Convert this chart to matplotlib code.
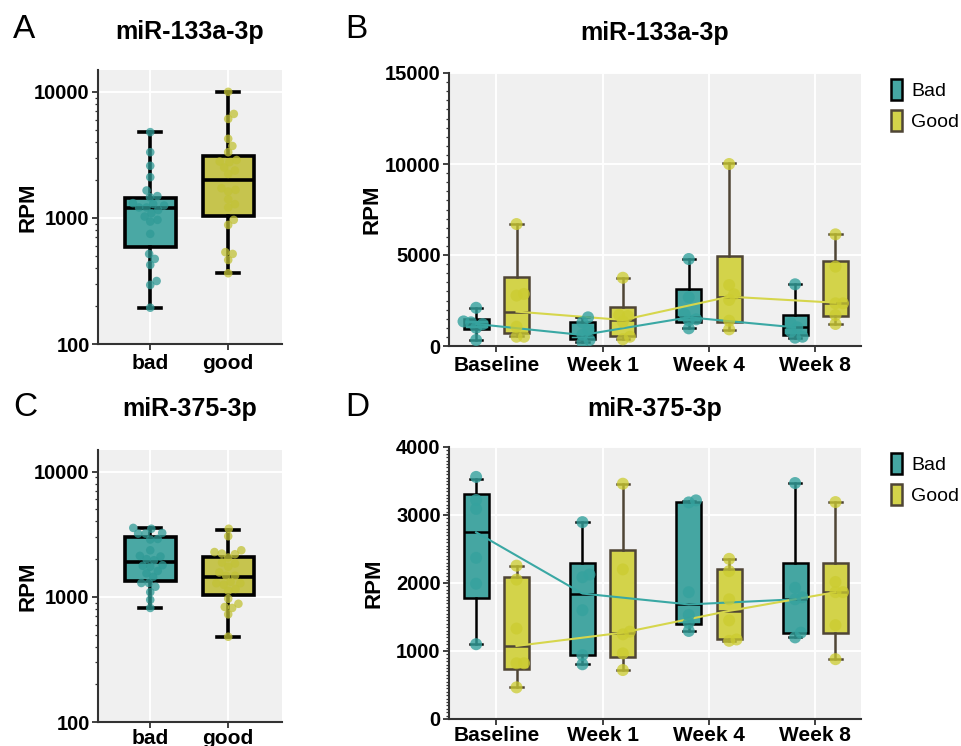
import numpy as np
import matplotlib
matplotlib.use("Agg")
import matplotlib.pyplot as plt
from matplotlib.patches import Patch
from matplotlib.ticker import MultipleLocator, FixedLocator, NullFormatter, LogLocator

plt.rcParams['font.family'] = ['Liberation Sans', 'DejaVu Sans']

# ---------------- DATA ----------------
groups_ac = ["bad", "good"]
timepoints = ["Baseline", "Week 1", "Week 4", "Week 8"]
legend_labels = ["Bad", "Good"]

# Panel A: miR-133a-3p (RPM, log)
A_bad = [4790, 3320, 2590, 2105, 1650, 1460, 1490, 1310, 1290, 1210, 1210, 1155,
         1255, 1090, 1025, 965, 935, 747, 518, 473, 424, 316, 294, 194]
A_good = [10000, 6680, 6100, 4240, 3720, 3320, 2880, 2770, 2800, 2510, 2375, 2235,
          1720, 1620, 1670, 1405, 1285, 1210, 965, 880, 535, 518, 464, 364]
# box stats: whislo, q1, median, q3, whishi
A_bad_box = [194, 592, 1195, 1450, 4790]
A_good_box = [364, 1042, 2005, 3100, 10050]

# Panel C: miR-375-3p (RPM, log)
C_bad = [3240, 3200, 3500, 2870, 3200, 3555, 2900, 2355, 2100, 2125, 1960, 2000,
         1790, 1740, 1770, 1540, 1445, 1610, 1290, 1205, 1290, 1090, 946, 815]
C_good = [3500, 3050, 2355, 2280, 2215, 2190, 2060, 1845, 1740, 1880, 1565, 1475,
          1475, 1320, 1285, 1285, 1250, 1157, 1120, 880, 725, 965, 830, 815, 480]
C_bad_box = [815, 1345, 1900, 3000, 3555]
C_good_box = [480, 1037, 1430, 2100, 3450]

# Panel B: miR-133a-3p over time (RPM)
B_bad_pts = [[2100, 1350, 1300, 1200, 1000, 330],
             [1575, 1300, 880, 620, 330, 200],
             [4780, 2675, 1760, 1465, 1420, 970],
             [3390, 1245, 1025, 800, 510, 457]]
B_good_pts = [[6700, 2860, 2770, 1060, 510, 510],
              [3750, 1700, 1650, 1340, 510, 370],
              [10000, 3350, 2840, 2530, 1390, 915],
              [6135, 4360, 2345, 2345, 1700, 1210]]
B_bad_box = [[330, 935, 1210, 1465, 2100],
             [200, 370, 605, 1335, 1575],
             [970, 1335, 1575, 3115, 4780],
             [420, 605, 1025, 1700, 3390]]
B_good_box = [[550, 700, 1890, 3770, 6700],
              [370, 550, 1430, 2160, 3750],
              [880, 1340, 2710, 4960, 10040],
              [1210, 1650, 2380, 4690, 6135]]

# Panel D: miR-375-3p over time (RPM)
D_bad_pts = [[3560, 3220, 3090, 2370, 1990, 1100],
             [2895, 2125, 2085, 1600, 940, 805],
             [3215, 3185, 1865, 1530, 1415, 1295],
             [3470, 1930, 1790, 1760, 1270, 1200]]
D_good_pts = [[2255, 2050, 1330, 820, 820, 465],
              [3460, 2200, 1285, 1245, 965, 720],
              [2355, 2175, 1760, 1450, 1170, 1150],
              [3190, 2015, 1865, 1865, 1380, 880]]
D_bad_box = [[1100, 1780, 2745, 3305, 3530],
             [805, 940, 1845, 2295, 2895],
             [1295, 1400, 1685, 3190, 3200],
             [1200, 1270, 1760, 2295, 3470]]
D_good_box = [[465, 730, 1075, 2090, 2255],
              [720, 905, 1270, 2490, 3460],
              [1150, 1170, 1590, 2200, 2355],
              [880, 1270, 1865, 2295, 3190]]

# ---------------- STYLE ----------------
TEAL_BOX = "#4aa8a4"
TEAL_PT = "#2f9a96"
YEL_BOX = "#c6c44e"
YEL_PT = "#c2c236"
TEAL_BOX2 = "#45a6a2"
YEL_BOX2 = "#d3d34a"
BROWN = "#4f4535"
BG = "#f0f0f0"
W, H = 962, 746

fig = plt.figure(figsize=(W / 100, H / 100), dpi=100)


def rect(l, t, r, b):
    return [l / W, 1 - b / H, (r - l) / W, (b - t) / H]


axA = fig.add_axes(rect(98, 70, 282, 344))
axC = fig.add_axes(rect(98, 450, 282, 722))
axB = fig.add_axes(rect(449, 73, 861, 346))
axD = fig.add_axes(rect(449, 447, 861, 719))


def style_axes(ax, xpad=3):
    ax.set_facecolor(BG)
    for s in ["top", "right"]:
        ax.spines[s].set_visible(False)
    for s in ["left", "bottom"]:
        ax.spines[s].set_color("#333333")
        ax.spines[s].set_linewidth(1.5)
    ax.tick_params(axis="both", which="major", direction="out", length=4,
                   width=1.3, color="#333333", pad=2)
    ax.tick_params(axis="y", which="minor", direction="out", length=2,
                   width=0.9, color="#333333")
    ax.tick_params(axis="x", which="major", labelsize=15, pad=xpad)
    ax.tick_params(axis="y", which="major", labelsize=14.5)
    for lab in ax.get_xticklabels() + ax.get_yticklabels():
        lab.set_fontweight("bold")
    ax.grid(True, which="major", color="white", linewidth=1.4)
    ax.set_axisbelow(True)


def swarm_x(ax, x0, vals, d):
    vals = np.asarray(vals, float)
    disp = ax.transData.transform(np.column_stack([np.full(len(vals), x0), vals]))
    ys = disp[:, 1]
    xc = disp[0, 0]
    order = np.argsort(ys)
    placed = []
    xs = np.zeros(len(vals))
    for i in order:
        y = ys[i]
        cands = [0.0]
        for (px, py) in placed:
            dy = abs(py - y)
            if dy < d:
                dx = np.sqrt(d * d - dy * dy)
                cands += [px + dx, px - dx]
        cands = sorted(cands, key=lambda c: (round(abs(c), 3), -c))
        for c in cands:
            if all((c - px) ** 2 + (y - py) ** 2 >= d * d - 1e-6 for px, py in placed):
                xs[i] = c
                placed.append((c, y))
                break
    back = ax.transData.inverted().transform(np.column_stack([xc + xs, ys]))
    return back[:, 0]


def stats(b):
    return dict(whislo=b[0], q1=b[1], med=b[2], q3=b[3], whishi=b[4])


def draw_box(ax, pos, box, face, edge, width, capw, lw):
    ax.bxp([stats(box)], positions=[pos], widths=width, capwidths=capw,
           patch_artist=True, showfliers=False,
           boxprops=dict(facecolor=face, edgecolor=edge, linewidth=lw),
           medianprops=dict(color=edge, linewidth=lw),
           whiskerprops=dict(color=edge, linewidth=lw),
           capprops=dict(color=edge, linewidth=lw),
           manage_ticks=False, zorder=2)


# ---------- Panels A and C (log scale) ----------
for ax, bad, good, bbox, gbox, xpad in [(axA, A_bad, A_good, A_bad_box, A_good_box, 3),
                                        (axC, C_bad, C_good, C_bad_box, C_good_box, 1)]:
    ax.set_yscale("log")
    ax.set_ylim(100, 14900)
    ax.set_xlim(-0.67, 1.69)
    ax.set_xticks(range(len(groups_ac)))
    ax.set_xticklabels(groups_ac)
    ax.yaxis.set_major_locator(FixedLocator([100, 1000, 10000]))
    ax.set_yticklabels(["100", "1000", "10000"])
    ax.yaxis.set_minor_locator(LogLocator(base=10, subs=np.arange(2, 10)))
    ax.yaxis.set_minor_formatter(NullFormatter())
    style_axes(ax, xpad)
    draw_box(ax, 0, bbox, TEAL_BOX, "black", 0.65, 0.28, 2.6)
    draw_box(ax, 1, gbox, YEL_BOX, "black", 0.65, 0.28, 2.6)
    for i, (vals, col) in enumerate([(bad, TEAL_PT), (good, YEL_PT)]):
        xs = swarm_x(ax, i, vals, 7.5)
        ax.scatter(xs, vals, s=38, color=col, alpha=0.75, edgecolors="none", zorder=4)

# ---------- Panels B and D (linear) ----------
dodge = 0.19
for ax, bpts, gpts, bbox, gbox, ymax, major, minor, xpad in [
        (axB, B_bad_pts, B_good_pts, B_bad_box, B_good_box, 15000, 5000, 500, 3),
        (axD, D_bad_pts, D_good_pts, D_bad_box, D_good_box, 4000, 1000, 50, 1)]:
    ax.set_xlim(-0.445, 3.43)
    ax.set_ylim(0, ymax)
    ax.set_xticks(range(len(timepoints)))
    ax.set_xticklabels(timepoints)
    ax.yaxis.set_major_locator(MultipleLocator(major))
    ax.yaxis.set_minor_locator(MultipleLocator(minor))
    style_axes(ax, xpad)
    n = len(timepoints)
    bad_med = [b[2] for b in bbox]
    good_med = [b[2] for b in gbox]
    for i in range(n):
        draw_box(ax, i - dodge, bbox[i], TEAL_BOX2, "black", 0.235, 0.115, 1.8)
        draw_box(ax, i + dodge, gbox[i], YEL_BOX2, BROWN, 0.235, 0.115, 1.8)
    xb = np.arange(n) - dodge
    xg = np.arange(n) + dodge
    ax.plot(xb, bad_med, color="#3aa8a4", lw=1.5, zorder=3)
    ax.plot(xg, good_med, color="#d6d64c", lw=1.5, zorder=3)
    for i in range(n):
        xs = swarm_x(ax, i - dodge, bpts[i], 7.5)
        ax.scatter(xs, bpts[i], s=75, color="#35a29e", alpha=0.8,
                   edgecolors="none", zorder=4)
        xs = swarm_x(ax, i + dodge, gpts[i], 7.5)
        ax.scatter(xs, gpts[i], s=75, color="#cccc30", alpha=0.75,
                   edgecolors="none", zorder=4)


def ylab(x, ax):
    p = ax.get_position()
    fig.text(x / W, p.y0 + p.height / 2, "RPM", rotation=90, ha="center",
             va="center", fontsize=16, fontweight="bold")


ylab(28, axA)
ylab(28, axC)
ylab(372, axB)
ylab(374, axD)

fig.text(13 / W, 1 - 30 / H, "A", fontsize=24, ha="left", va="center")
fig.text(345 / W, 1 - 30 / H, "B", fontsize=24, ha="left", va="center")
fig.text(13 / W, 1 - 408 / H, "C", fontsize=24, ha="left", va="center")
fig.text(345 / W, 1 - 408 / H, "D", fontsize=24, ha="left", va="center")

fig.text(190 / W, 1 - 32 / H, "miR-133a-3p", fontsize=18, fontweight="bold",
         ha="center", va="center")
fig.text(655 / W, 1 - 33 / H, "miR-133a-3p", fontsize=18, fontweight="bold",
         ha="center", va="center")
fig.text(190 / W, 1 - 409 / H, "miR-375-3p", fontsize=18, fontweight="bold",
         ha="center", va="center")
fig.text(655 / W, 1 - 409 / H, "miR-375-3p", fontsize=18, fontweight="bold",
         ha="center", va="center")

handles = [Patch(facecolor=TEAL_BOX2, edgecolor="black", linewidth=1.8),
           Patch(facecolor=YEL_BOX2, edgecolor=BROWN, linewidth=1.8)]
for ytop in [65, 439]:
    fig.legend(handles=handles, labels=legend_labels, loc="upper left",
               bbox_to_anchor=(877 / W, 1 - ytop / H), frameon=False,
               handlelength=0.6, handleheight=1.3, fontsize=14,
               handletextpad=0.45, labelspacing=0.5, borderpad=0.2)

fig.savefig("out.png", dpi=100)
